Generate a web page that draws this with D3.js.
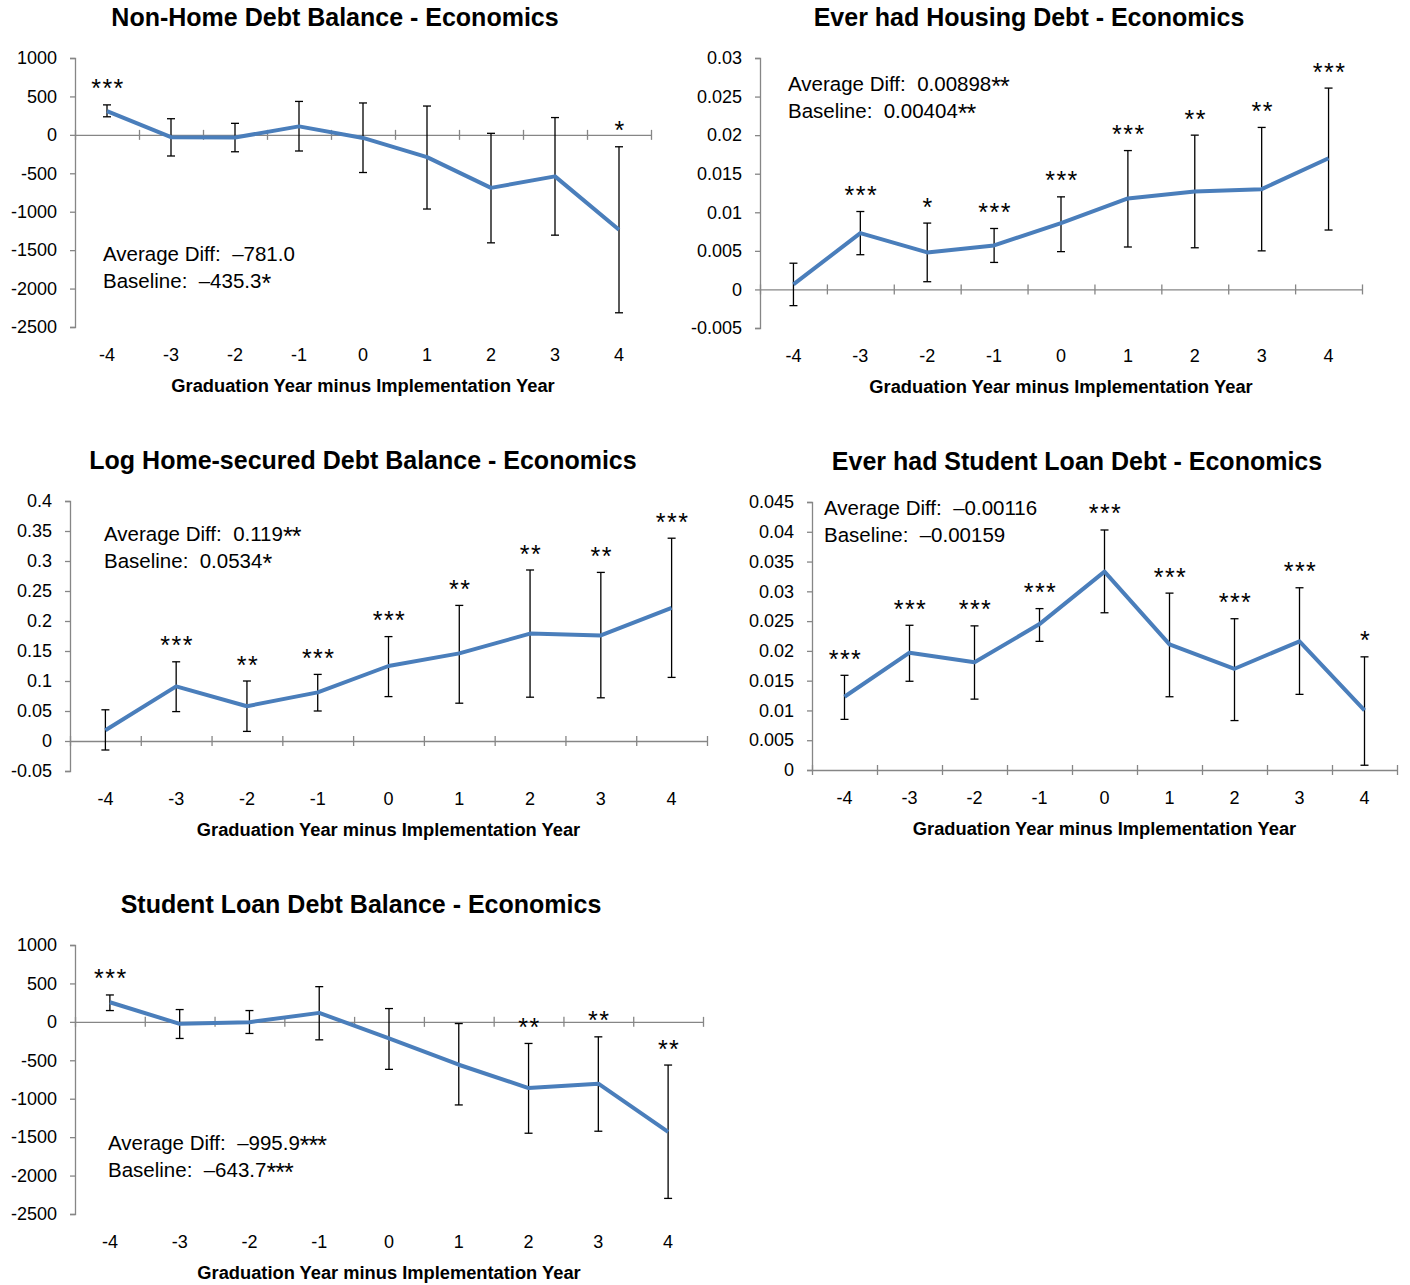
<!DOCTYPE html>
<html>
<head>
<meta charset="utf-8" />
<title>Debt outcomes - Economics</title>
<script src="https://d3js.org/d3.v7.min.js"></script>
<style>
  body { margin: 0; background: #fff; }
  svg text { font-family: "Liberation Sans", Arial, sans-serif; }
  .note { white-space: pre; }
</style>
</head>
<body>
<svg id="chart" width="1410" height="1285"></svg>
<script>
// x categories: graduation year minus implementation year
var categories = [-4, -3, -2, -1, 0, 1, 2, 3, 4];

// Non-Home Debt Balance
var nonHomeEst = [310, -30, -35, 110, -40, -290, -690, -540, -1235];
var nonHomeHi = [390, 210, 150, 435, 415, 375, 20, 225, -155];
var nonHomeLo = [235, -275, -220, -210, -490, -965, -1405, -1305, -2315];
var nonHomeStars = ["***", "", "", "", "", "", "", "", "*"];

// Ever had Housing Debt
var housingEst = [0.00065, 0.0073, 0.0048, 0.0057, 0.0086, 0.0118, 0.0127, 0.0130, 0.0170];
var housingHi = [0.0034, 0.0101, 0.0086, 0.0079, 0.0120, 0.0180, 0.0200, 0.0210, 0.0261];
var housingLo = [-0.0021, 0.0045, 0.0010, 0.0035, 0.0049, 0.0055, 0.0054, 0.0050, 0.0077];
var housingStars = ["", "***", "*", "***", "***", "***", "**", "**", "***"];

// Log Home-secured Debt Balance
var logHomeEst = [0.018, 0.091, 0.058, 0.081, 0.125, 0.146, 0.179, 0.176, 0.222];
var logHomeHi = [0.052, 0.132, 0.100, 0.111, 0.174, 0.226, 0.285, 0.281, 0.338];
var logHomeLo = [-0.015, 0.049, 0.016, 0.050, 0.074, 0.063, 0.073, 0.072, 0.106];
var logHomeStars = ["", "***", "**", "***", "***", "**", "**", "**", "***"];

// Ever had Student Loan Debt
var everStudentEst = [0.0123, 0.0197, 0.0181, 0.0245, 0.0333, 0.0211, 0.0170, 0.0216, 0.0100];
var everStudentHi = [0.0159, 0.0243, 0.0242, 0.0271, 0.0403, 0.0297, 0.0254, 0.0306, 0.0190];
var everStudentLo = [0.0085, 0.0149, 0.0119, 0.0216, 0.0264, 0.0123, 0.0083, 0.0127, 0.0008];
var everStudentStars = ["***", "***", "***", "***", "***", "***", "***", "***", "*"];

// Student Loan Debt Balance
var studentBalEst = [255, -26, -4, 117, -216, -558, -861, -804, -1432];
var studentBalHi = [350, 160, 147, 458, 173, -22, -281, -195, -562];
var studentBalLo = [147, -216, -151, -234, -618, -1081, -1449, -1423, -2297];
var studentBalStars = ["***", "", "", "", "", "", "**", "**", "**"];

// y tick labels
var balanceTicks = [1000, 500, 0, -500, -1000, -1500, -2000, -2500];
var housingTicks = [0.03, 0.025, 0.02, 0.015, 0.01, 0.005, 0, -0.005];
var logHomeTicks = [0.4, 0.35, 0.3, 0.25, 0.2, 0.15, 0.1, 0.05, 0, -0.05];
var everStudentTicks = [0.045, 0.04, 0.035, 0.03, 0.025, 0.02, 0.015, 0.01, 0.005, 0];

var titles = [
    "Non-Home Debt Balance - Economics",
    "Ever had Housing Debt - Economics",
    "Log Home-secured Debt Balance - Economics",
    "Ever had Student Loan Debt - Economics",
    "Student Loan Debt Balance - Economics"
];
var avgDiffText = ["\u2013781.0", "0.00898", "0.119", "\u20130.00116", "\u2013995.9"];
var avgDiffStars = ["", "**", "**", "", "***"];
var baselineText = ["\u2013435.3", "0.00404", "0.0534", "\u20130.00159", "\u2013643.7"];
var baselineStars = ["*", "**", "*", "", "***"];
var xTitle = "Graduation Year minus Implementation Year";

// where each panel sits on the page
var layouts = [
    { left: 75, right: 651, top: 58, bottom: 327, titleX: 335, noteX: 103, noteY: 261 },
    { left: 760, right: 1362, top: 58, bottom: 328, titleX: 1029, noteX: 788, noteY: 91 },
    { left: 70, right: 707, top: 501, bottom: 771, titleX: 363, noteX: 104, noteY: 541 },
    { left: 812, right: 1397, top: 502, bottom: 770, titleX: 1077, noteX: 824, noteY: 515 },
    { left: 75, right: 703, top: 945, bottom: 1214, titleX: 361, noteX: 108, noteY: 1150 }
];

var panels = [
    { est: nonHomeEst, hi: nonHomeHi, lo: nonHomeLo, stars: nonHomeStars, ticks: balanceTicks },
    { est: housingEst, hi: housingHi, lo: housingLo, stars: housingStars, ticks: housingTicks },
    { est: logHomeEst, hi: logHomeHi, lo: logHomeLo, stars: logHomeStars, ticks: logHomeTicks },
    { est: everStudentEst, hi: everStudentHi, lo: everStudentLo, stars: everStudentStars, ticks: everStudentTicks },
    { est: studentBalEst, hi: studentBalHi, lo: studentBalLo, stars: studentBalStars, ticks: balanceTicks }
];

var axisColor = "#868686";
var lineColor = "#4a7ebb";

var svg = d3.select("#chart");

function addNote(g, x, y, label, value, stars) {
    var t = g.append("text")
        .attr("class", "note")
        .attr("x", x)
        .attr("y", y)
        .style("font-size", "20.5px")
        .text(label + value);
    if (stars) {
        t.append("tspan")
            .attr("dy", 4)
            .style("font-size", "25px")
            .style("letter-spacing", "-1px")
            .text(stars);
    }
}

panels.forEach(function (p, i) {
    var L = layouts[i];
    var g = svg.append("g");

    var y = d3.scaleLinear()
        .domain(d3.extent(p.ticks))
        .range([L.bottom, L.top]);

    var x = d3.scaleBand()
        .domain(categories)
        .range([L.left, L.right]);

    var xEdges = d3.scaleLinear()
        .domain([0, categories.length])
        .range([L.left, L.right]);

    var cx = function (k) { return x(categories[k]) + x.bandwidth() / 2; };

    // title
    g.append("text")
        .attr("x", L.titleX)
        .attr("y", L.top - 32)
        .attr("text-anchor", "middle")
        .style("font-size", "25px")
        .style("font-weight", "bold")
        .text(titles[i]);

    // y axis
    var yAxis = g.append("g")
        .attr("transform", "translate(" + L.left + ",0)")
        .call(d3.axisLeft(y).tickValues(p.ticks).tickSize(5).tickPadding(13)
            .tickFormat(function (d) { return String(d); }));
    yAxis.select(".domain").attr("stroke", axisColor).attr("stroke-width", 1.3);
    yAxis.selectAll(".tick line").attr("stroke", axisColor).attr("stroke-width", 1.3);
    yAxis.selectAll(".tick text")
        .attr("fill", "#000")
        .style("font-size", "18px")
        .style("font-family", "'Liberation Sans', Arial, sans-serif");

    // x axis line at zero with cross ticks
    var xAxis = g.append("g")
        .attr("transform", "translate(0," + y(0) + ")")
        .call(d3.axisBottom(xEdges).tickValues(d3.range(categories.length + 1)).tickSize(5).tickSizeOuter(0).tickFormat(""));
    xAxis.select(".domain").attr("stroke", axisColor).attr("stroke-width", 1.3);
    xAxis.selectAll(".tick line")
        .attr("y1", -5).attr("y2", 5)
        .attr("stroke", axisColor).attr("stroke-width", 1.3);

    // category labels below plot
    var xLab = g.append("g")
        .attr("transform", "translate(0," + L.bottom + ")")
        .call(d3.axisBottom(x).tickSize(0).tickPadding(21));
    xLab.select(".domain").remove();
    xLab.selectAll(".tick text")
        .attr("fill", "#000")
        .style("font-size", "18px")
        .style("font-family", "'Liberation Sans', Arial, sans-serif");

    // x axis title
    g.append("text")
        .attr("x", (L.left + L.right) / 2)
        .attr("y", L.bottom + 65)
        .attr("text-anchor", "middle")
        .style("font-size", "18.3px")
        .style("font-weight", "bold")
        .text(xTitle);

    // error bars
    var idx = d3.range(categories.length);
    var eb = g.append("g").attr("stroke", "#000").attr("stroke-width", 1.3);
    eb.selectAll(".stem").data(idx).enter().append("line")
        .attr("x1", cx).attr("x2", cx)
        .attr("y1", function (k) { return y(p.hi[k]); })
        .attr("y2", function (k) { return y(p.lo[k]); });
    eb.selectAll(".capHi").data(idx).enter().append("line")
        .attr("x1", function (k) { return cx(k) - 4; })
        .attr("x2", function (k) { return cx(k) + 4; })
        .attr("y1", function (k) { return y(p.hi[k]); })
        .attr("y2", function (k) { return y(p.hi[k]); });
    eb.selectAll(".capLo").data(idx).enter().append("line")
        .attr("x1", function (k) { return cx(k) - 4; })
        .attr("x2", function (k) { return cx(k) + 4; })
        .attr("y1", function (k) { return y(p.lo[k]); })
        .attr("y2", function (k) { return y(p.lo[k]); });

    // estimate line
    var line = d3.line()
        .x(function (k) { return cx(k); })
        .y(function (k) { return y(p.est[k]); });
    g.append("path")
        .datum(idx)
        .attr("d", line)
        .attr("fill", "none")
        .attr("stroke", lineColor)
        .attr("stroke-width", 4)
        .attr("stroke-linejoin", "round");

    // significance stars
    g.selectAll(".star").data(idx).enter().append("text")
        .attr("x", function (k) { return cx(k) + 1; })
        .attr("y", function (k) { return y(p.hi[k]) - 7.5; })
        .attr("text-anchor", "middle")
        .style("font-size", "25px")
        .style("letter-spacing", "1.5px")
        .text(function (k) { return p.stars[k]; });

    // average diff / baseline note
    addNote(g, L.noteX, L.noteY, "Average Diff:  ", avgDiffText[i], avgDiffStars[i]);
    addNote(g, L.noteX, L.noteY + 27, "Baseline:  ", baselineText[i], baselineStars[i]);
});
</script>
</body>
</html>
